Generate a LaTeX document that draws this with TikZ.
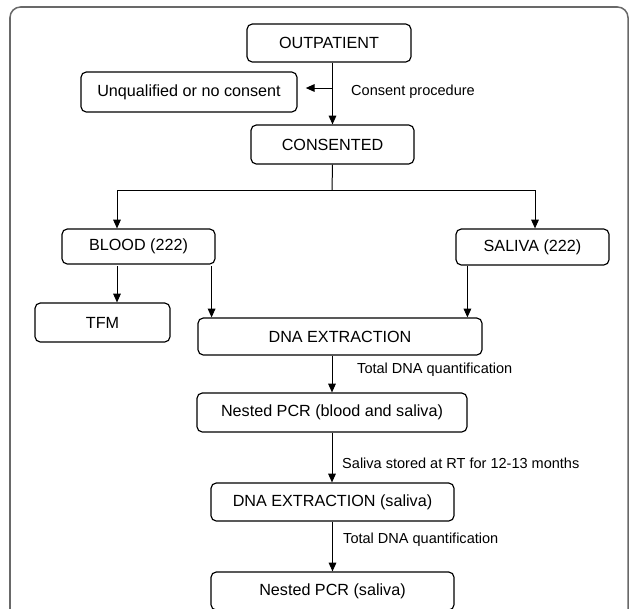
\documentclass[tikz,border=0pt]{standalone}
\usepackage{fontspec}
\setmainfont{Liberation Sans}
\usetikzlibrary{arrows.meta,calc}

\begin{document}
\begin{tikzpicture}[x=0.03cm, y=-0.03cm,
        stepbox/.style={draw, rounded corners=4.5pt, line width=1pt,
            inner sep=0pt, font=\fontsize{13.8}{16}\selectfont},
        boxsize/.style 2 args={minimum width=#1*0.03cm, minimum height=#2*0.03cm},
        link/.style={line width=0.85pt},
        arr/.style={link, -{Triangle[length=7.5pt,width=6.5pt]}},
        note/.style={anchor=west, inner sep=0pt, font=\fontsize{12.4}{14}\selectfont}]
        % -- colour definitions --------------------------------------------------
        \definecolor{framecolor}{RGB}{105,105,105}

        % -- canvas and outer frame ----------------------------------------------
        \useasboundingbox (0,0) rectangle (629,608);
        \clip (0,0) rectangle (629,608);
        \draw[framecolor, line width=1.3pt, rounded corners=9pt]
            (10,7) rectangle (628,650);

        % -- boxes ---------------------------------------------------------------
        \node[stepbox, boxsize={164}{38}] (out)    at (329,43)    {OUTPATIENT};
        \node[stepbox, boxsize={216}{40}] (unq)    at (189,92)    {Unqualified or no consent};
        \node[stepbox, boxsize={163}{39}] (cons)   at (332.5,144.5) {CONSENTED};
        \node[stepbox, boxsize={153}{35}] (blood)  at (138.5,246.5) {BLOOD (222)};
        \node[stepbox, boxsize={153}{36}] (saliva) at (532.5,247) {SALIVA (222)};
        \node[stepbox, boxsize={135}{39}] (tfm)    at (102.5,322.5) {TFM};
        \node[stepbox, boxsize={284}{37}] (dna)    at (340,336.5) {DNA EXTRACTION};
        \node[stepbox, boxsize={270}{39}] (pcr)    at (332,412.5) {Nested PCR (blood and saliva)};
        \node[stepbox, boxsize={243}{38}] (dnas)   at (332.5,502) {DNA EXTRACTION (saliva)};
        \node[stepbox, boxsize={243}{38}] (pcrs)   at (332.5,591) {Nested PCR (saliva)};

        % -- consent step --------------------------------------------------------
        \coordinate (cp) at (332,88);
        \draw[arr] (cons.north |- out.south) -- (cons.north);
        \draw[arr, shorten >=7pt] (cp) -- (unq.east |- cp);
        \node[note] (cplab) at (351,92) {Consent procedure};

        % -- split into blood and saliva ----------------------------------------
        \coordinate (split) at (332,190);
        \coordinate (bl) at (117,190);
        \coordinate (sl) at (535,190);
        \draw[link] (cons.south) -- (split);
        \draw[link] (bl) -- (sl);
        \draw[arr] (bl) -- (bl |- blood.north);
        \draw[arr] (sl) -- (sl |- saliva.north);

        % -- samples to TFM and extraction ---------------------------------------
        \coordinate (bx) at ($(blood.south east)+(-4,0)$);
        \coordinate (sx) at ($(saliva.south west)+(12,0)$);
        \draw[arr, shorten <=1.5pt] (bl |- blood.south) -- (bl |- tfm.north);
        \draw[arr, shorten <=1.5pt] (bx) -- (bx |- dna.north);
        \draw[arr] (sx) -- (sx |- dna.north);

        % -- extraction and PCR chain --------------------------------------------
        \draw[arr] (pcr.north |- dna.south) -- (pcr.north);
        \node[note] (q1) at (357,370) {Total DNA quantification};
        \draw[arr] (pcr.south) -- (pcr.south |- dnas.north);
        \node[note] (store) at (342,463) {Saliva stored at RT for 12-13 months};
        \draw[arr] (dnas.south) -- (pcrs.north);
        \node[note] (q2) at (343,540) {Total DNA quantification};
    \end{tikzpicture}
\end{document}
